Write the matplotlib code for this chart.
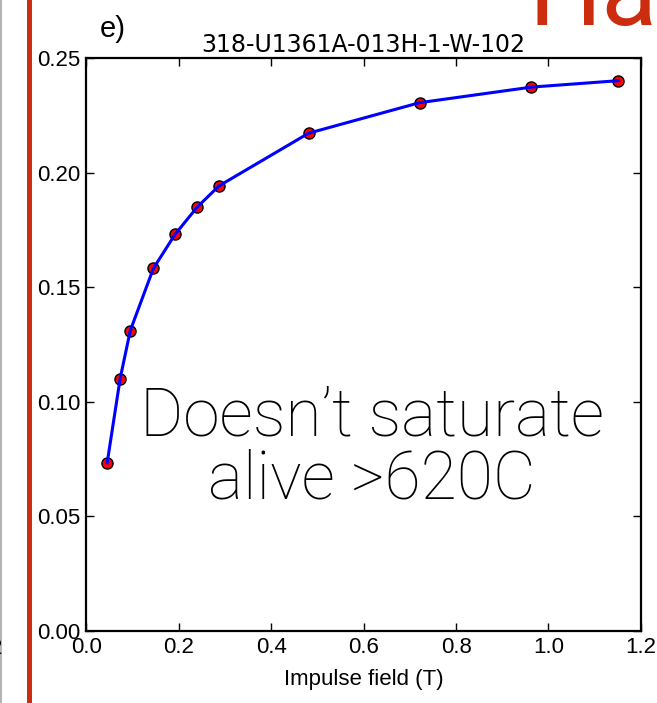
import matplotlib.pyplot as plt
from matplotlib.lines import Line2D

# impulse field (T) vs magnetization
field_T = [0.045, 0.073, 0.095, 0.145, 0.192, 0.240, 0.287, 0.481, 0.721, 0.963, 1.151]
irm = [0.0734, 0.1101, 0.1311, 0.1582, 0.1731, 0.1850, 0.1942, 0.2172, 0.2305, 0.2373, 0.2401]

x_ticks = [0.0, 0.2, 0.4, 0.6, 0.8, 1.0, 1.2]
y_ticks = [0.00, 0.05, 0.10, 0.15, 0.20, 0.25]
specimen = '318-U1361A-013H-1-W-102'
note = 'Doesn\u2019t saturate\nalive >620C'

slide_red = '#cc2d0e'
helv = ['Liberation Sans', 'DejaVu Sans']

fig = plt.figure(figsize=(6.57, 7.03), dpi=100)
ax = fig.add_axes([0.1315, 0.1024, 0.844, 0.8151])

# markers first, line drawn over them
ax.plot(field_T, irm, 'o', ms=8, mfc='red', mec='black', mew=1.0, zorder=2)
ax.plot(field_T, irm, '-', color='blue', lw=2.2, zorder=3)

ax.set_xlim(0, 1.2)
ax.set_ylim(0, 0.25)
ax.set_xticks(x_ticks)
ax.set_yticks(y_ticks)
ax.set_xticklabels([f'{v:.1f}' for v in x_ticks], family=helv, fontsize=16)
ax.set_yticklabels([f'{v:.2f}' for v in y_ticks], family=helv, fontsize=16)
ax.tick_params(direction='in', length=6, width=1, top=True, right=True, pad=4)
for s in ax.spines.values():
    s.set_linewidth(1.6)

ax.set_title(specimen, fontsize=17, family='DejaVu Sans', pad=4)
ax.set_xlabel('Impulse field (T)', family=helv, fontsize=16, labelpad=8)

ax.text(0.515, 0.318, note, transform=ax.transAxes, ha='center', va='center',
        fontsize=47.5, family=['Roboto', 'DejaVu Sans'], fontweight='light',
        linespacing=0.98, zorder=4)

# slide decorations around the plot
fig.text(0.152, 0.948, 'e)', fontsize=21, family=helv, ha='left', va='baseline')
fig.text(0.805, 0.964, 'Ha', fontsize=74, family=['Roboto', 'DejaVu Sans'],
         color=slide_red, ha='left', va='baseline')
fig.text(0.004, 0.07, '2', fontsize=16, family=helv, ha='right', va='baseline')
fig.add_artist(Line2D([0.0435, 0.0435], [0, 1], transform=fig.transFigure,
                      color=slide_red, lw=3.6))
fig.add_artist(Line2D([0.0015, 0.0015], [0, 1], transform=fig.transFigure,
                      color='#b5b5b5', lw=1.5))

fig.savefig('out.png', dpi=100)
